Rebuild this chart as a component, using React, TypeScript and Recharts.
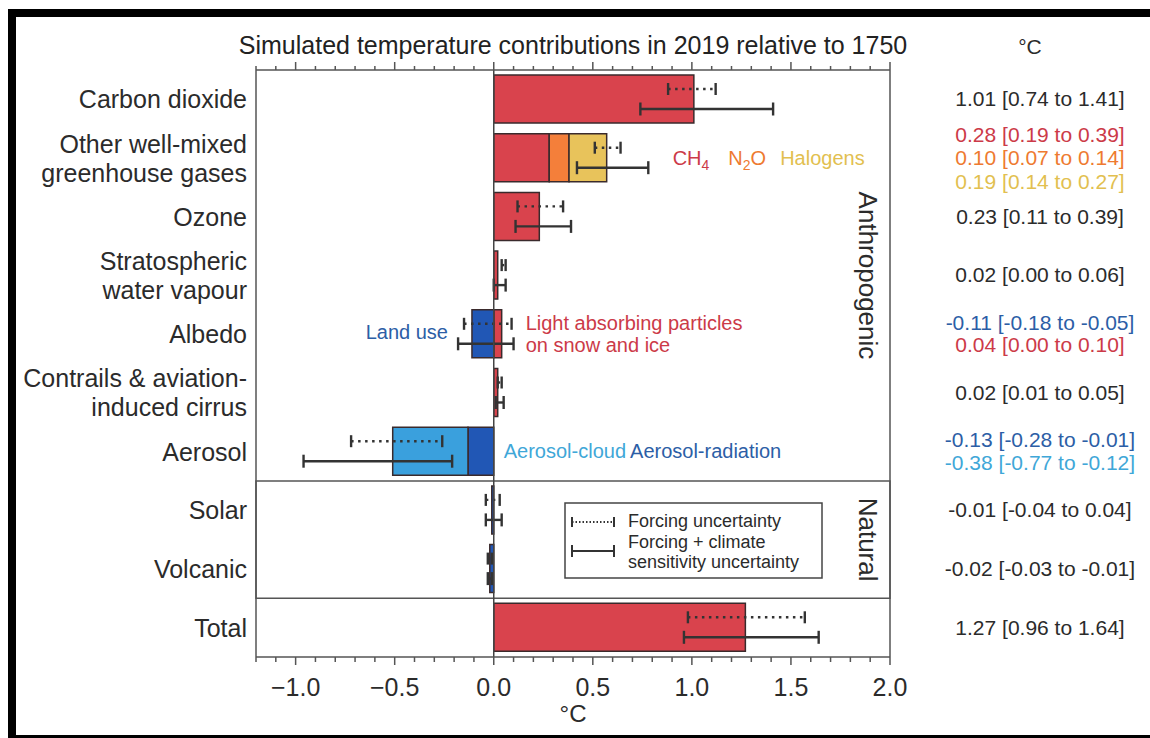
import React from "react";
import { ComposedChart, Bar, XAxis, YAxis, ReferenceLine, ReferenceArea, LabelList, Legend } from "recharts";

const categories = [
  "Carbon dioxide",
  "Other well-mixed greenhouse gases",
  "Ozone",
  "Stratospheric water vapour",
  "Albedo",
  "Contrails & aviation-induced cirrus",
  "Aerosol",
  "Solar",
  "Volcanic",
  "Total",
];

const categoryLines = [
  ["Carbon dioxide"],
  ["Other well-mixed", "greenhouse gases"],
  ["Ozone"],
  ["Stratospheric", "water vapour"],
  ["Albedo"],
  ["Contrails & aviation-", "induced cirrus"],
  ["Aerosol"],
  ["Solar"],
  ["Volcanic"],
  ["Total"],
];

// best estimates in °C, stacked out from zero
const redValues = [1.01, 0.28, 0.23, 0.02, 0.04, 0.02, 0, 0, 0, 1.27];
const n2oValues = [0, 0.1, 0, 0, 0, 0, 0, 0, 0, 0];
const halogenValues = [0, 0.19, 0, 0, 0, 0, 0, 0, 0, 0];
const darkBlueValues = [0, 0, 0, 0, -0.11, 0, -0.13, -0.01, -0.02, 0];
const aerosolCloudValues = [0, 0, 0, 0, 0, 0, -0.38, 0, 0, 0];

// forcing uncertainty (dotted)
const forcingLow = [0.88, 0.51, 0.12, 0.04, -0.15, 0.02, -0.72, -0.04, -0.03, 0.98];
const forcingHigh = [1.12, 0.64, 0.35, 0.06, 0.09, 0.04, -0.26, 0.03, -0.01, 1.57];
// forcing + climate sensitivity uncertainty (solid)
const fullLow = [0.74, 0.42, 0.11, 0.0, -0.18, 0.01, -0.96, -0.04, -0.03, 0.96];
const fullHigh = [1.41, 0.78, 0.39, 0.06, 0.1, 0.05, -0.21, 0.04, -0.01, 1.64];

// right-hand column: [best, low, high]
const assessed = [
  [[1.01, 0.74, 1.41]],
  [[0.28, 0.19, 0.39], [0.1, 0.07, 0.14], [0.19, 0.14, 0.27]],
  [[0.23, 0.11, 0.39]],
  [[0.02, 0.0, 0.06]],
  [[-0.11, -0.18, -0.05], [0.04, 0.0, 0.1]],
  [[0.02, 0.01, 0.05]],
  [[-0.13, -0.28, -0.01], [-0.38, -0.77, -0.12]],
  [[-0.01, -0.04, 0.04]],
  [[-0.02, -0.03, -0.01]],
  [[1.27, 0.96, 1.64]],
];

const xTicks = [
  -1.2, -1.1, -1.0, -0.9, -0.8, -0.7, -0.6, -0.5, -0.4, -0.3, -0.2, -0.1, 0,
  0.1, 0.2, 0.3, 0.4, 0.5, 0.6, 0.7, 0.8, 0.9, 1.0, 1.1, 1.2, 1.3, 1.4, 1.5,
  1.6, 1.7, 1.8, 1.9, 2.0,
];

const FONT = '"Liberation Sans", Arial, sans-serif';
const INK = "#2b2b2b";
const AXIS = "#555";
const EDGE = "#3a2a2c";
const RED = "#d9434d";
const ORANGE = "#f47f3a";
const GOLD = "#e8c35b";
const DBLUE = "#2157b5";
const LBLUE = "#3aa0dd";
const RED_T = "#cc3a48";
const ORANGE_T = "#ee7a30";
const GOLD_T = "#e2bf50";
const BLUE_T = "#2c5ea6";
const LBLUE_T = "#3fa7d8";

const assessedColors = [
  [INK],
  [RED_T, ORANGE_T, GOLD_T],
  [INK],
  [INK],
  [BLUE_T, RED_T],
  [INK],
  [BLUE_T, LBLUE_T],
  [INK],
  [INK],
  [INK],
];

const data = categories.map((name, i) => ({
  name,
  red: redValues[i],
  n2o: n2oValues[i],
  halo: halogenValues[i],
  dark: darkBlueValues[i],
  cloud: aerosolCloudValues[i],
  forcing: [forcingLow[i], forcingHigh[i]],
  full: [fullLow[i], fullHigh[i]],
}));

const isMajor = (v: number) => Math.abs(v * 2 - Math.round(v * 2)) < 1e-6;
const tickText = (v: number) => (v < -1e-9 ? "\u2212" : "") + Math.abs(v).toFixed(1);

const BottomTick = (p: any) => {
  const { x, y, payload } = p;
  const major = isMajor(payload.value);
  return (
    <g>
      <line x1={x} x2={x} y1={y} y2={y + (major ? 8 : 5)} stroke={AXIS} strokeWidth={1.5} />
      {major && (
        <text x={x} y={y + 39} textAnchor="middle" fontSize={25} fill={INK} fontFamily={FONT}>
          {tickText(payload.value)}
        </text>
      )}
    </g>
  );
};

const TopTick = (p: any) => {
  const { x, y, payload } = p;
  const major = isMajor(payload.value);
  return <line x1={x} x2={x} y1={y} y2={y - (major ? 8 : 4)} stroke={AXIS} strokeWidth={1.5} />;
};

const LeftTick = (p: any) => {
  const { x, y, payload } = p;
  const i = categories.indexOf(payload.value);
  const lines = categoryLines[i] || [payload.value];
  const lh = 29;
  const top = y - ((lines.length - 1) * lh) / 2;
  return (
    <g>
      {lines.map((l, k) => (
        <text key={k} x={x - 9} y={top + k * lh + 9} textAnchor="end" fontSize={25} fill={INK} fontFamily={FONT}>
          {l}
        </text>
      ))}
    </g>
  );
};

const fmt = (v: number) => v.toFixed(2);

const RightTick = (p: any) => {
  const { x, y, payload } = p;
  const i = categories.indexOf(payload.value);
  const rows = assessed[i];
  if (!rows) return null;
  const lh = rows.length > 2 ? 23.5 : 22.5;
  const top = y - ((rows.length - 1) * lh) / 2;
  return (
    <g>
      {rows.map((r, k) => (
        <text key={k} x={x + 150} y={top + k * lh + 7} textAnchor="middle" fontSize={21} fill={assessedColors[i][k]} fontFamily={FONT}>
          {`${fmt(r[0])} [${fmt(r[1])} to ${fmt(r[2])}]`}
        </text>
      ))}
    </g>
  );
};

const boxOf = (p: any) => {
  const vb = p.viewBox && p.viewBox.width !== undefined ? p.viewBox : p;
  const x = Number(vb.x);
  const w = Number(vb.width);
  const y = Number(vb.y);
  const h = Number(vb.height);
  return { left: Math.min(x, x + w), right: Math.max(x, x + w), cy: y + h / 2 };
};

// labels are fed the category name (LabelList dataKey="name")
const rowOf = (p: any) => categories.indexOf(String(p.value));

const GasLabels = (p: any) => {
  if (rowOf(p) !== 1) return null;
  const b = boxOf(p);
  return (
    <text x={b.right + 66} y={b.cy + 7} fontSize={20} fontFamily={FONT}>
      <tspan fill={RED_T}>CH</tspan>
      <tspan fill={RED_T} fontSize={14} dy={5}>4</tspan>
      <tspan fill={ORANGE_T} dx={19} dy={-5}>N</tspan>
      <tspan fill={ORANGE_T} fontSize={14} dy={5}>2</tspan>
      <tspan fill={ORANGE_T} dy={-5}>O</tspan>
      <tspan fill={GOLD_T} dx={14}>Halogens</tspan>
    </text>
  );
};

const RedLabels = (p: any) => {
  if (rowOf(p) !== 4) return null;
  const b = boxOf(p);
  return (
    <g fontSize={20} fontFamily={FONT} fill={RED_T}>
      <text x={b.right + 24} y={b.cy - 4}>Light absorbing particles</text>
      <text x={b.right + 24} y={b.cy + 18}>on snow and ice</text>
    </g>
  );
};

const BlueLabels = (p: any) => {
  const b = boxOf(p);
  const row = rowOf(p);
  if (row === 4)
    return (
      <text x={b.left - 24} y={b.cy + 5} textAnchor="end" fontSize={20} fontFamily={FONT} fill={BLUE_T}>
        Land use
      </text>
    );
  if (row === 6)
    return (
      <text x={b.right + 10} y={b.cy + 7} fontSize={20} fontFamily={FONT}>
        <tspan fill={LBLUE_T}>Aerosol-cloud</tspan>
        <tspan fill={BLUE_T} dx={4}>Aerosol-radiation</tspan>
      </text>
    );
  return null;
};

const rangeShape = (dotted: boolean) => (p: any) => {
  const { x, y, width, height } = p;
  if (x == null || width == null) return <g />;
  const x1 = Math.min(x, x + width);
  const x2 = Math.max(x, x + width);
  const cy = y + height / 2;
  const cap = dotted ? 6 : 6.5;
  return (
    <g stroke="#333" strokeWidth={2.4}>
      <line x1={x1} x2={x2} y1={cy} y2={cy} strokeDasharray={dotted ? "2.5 4.5" : undefined} />
      <line x1={x1} x2={x1} y1={cy - cap} y2={cy + cap} />
      <line x1={x2} x2={x2} y1={cy - cap} y2={cy + cap} />
    </g>
  );
};

const sideLabel = (text: string) => (p: any) => {
  const vb = p.viewBox || {};
  const x = vb.x + vb.width - 22;
  const y = vb.y + vb.height / 2;
  return (
    <text x={x} y={y} transform={`rotate(90 ${x} ${y})`} textAnchor="middle" dominantBaseline="central" fontSize={26} fill={INK} fontFamily={FONT}>
      {text}
    </text>
  );
};

const titleLabel = (p: any) => {
  const vb = p.viewBox || {};
  return (
    <text x={vb.x + vb.width / 2} y={vb.y + 34} textAnchor="middle" fontSize={25} fill="#222" fontFamily={FONT}>
      Simulated temperature contributions in 2019 relative to 1750
    </text>
  );
};

const bottomUnit = (p: any) => {
  const vb = p.viewBox || {};
  return (
    <text x={vb.x + vb.width / 2} y={vb.y + 65} textAnchor="middle" fontSize={24} fill={INK} fontFamily={FONT}>
      °C
    </text>
  );
};

const rightUnit = (p: any) => {
  const vb = p.viewBox || {};
  return (
    <text x={vb.x + 140} y={vb.y - 16} textAnchor="middle" fontSize={21} fill={INK} fontFamily={FONT}>
      °C
    </text>
  );
};

const LegendBox = () => (
  <svg width={259} height={77} style={{ display: "block" }}>
    <rect x={1} y={1} width={257} height={75} fill="#fff" stroke="#444" strokeWidth={1.5} />
    <g stroke="#333" strokeWidth={2}>
      <line x1={8} x2={50} y1={20} y2={20} strokeDasharray="1.5 2" />
      <line x1={8} x2={8} y1={15} y2={25} />
      <line x1={50} x2={50} y1={15} y2={25} />
      <line x1={8} x2={50} y1={49} y2={49} />
      <line x1={8} x2={8} y1={43} y2={55} />
      <line x1={50} x2={50} y1={43} y2={55} />
    </g>
    <g fontSize={18} fill={INK} fontFamily={FONT}>
      <text x={64} y={25}>Forcing uncertainty</text>
      <text x={64} y={46}>Forcing + climate</text>
      <text x={64} y={66}>sensitivity uncertainty</text>
    </g>
  </svg>
);

const AttributionChart = () => {
  const barProps = { stackId: "t", stroke: EDGE, strokeWidth: 1.5, barSize: 48, isAnimationActive: false };
  return (
    <ComposedChart
      width={1150}
      height={738}
      data={data}
      layout="vertical"
      stackOffset="sign"
      barGap={0}
      margin={{ top: 20, right: 10, bottom: 11, left: 16 }}
    >
      <XAxis
        type="number"
        domain={[-1.2, 2]}
        ticks={xTicks}
        interval={0}
        tickSize={0}
        tickMargin={0}
        tickLine={false}
        tick={BottomTick}
        axisLine={{ stroke: AXIS, strokeWidth: 1.5 }}
        height={70}
        allowDataOverflow
        label={bottomUnit}
      />
      <XAxis
        xAxisId="top"
        orientation="top"
        type="number"
        domain={[-1.2, 2]}
        ticks={xTicks}
        interval={0}
        tickSize={0}
        tickMargin={0}
        tickLine={false}
        tick={TopTick}
        axisLine={{ stroke: AXIS, strokeWidth: 1.5 }}
        height={50}
        allowDataOverflow
        label={titleLabel}
      />
      <YAxis
        type="category"
        dataKey="name"
        width={240}
        interval={0}
        tickSize={0}
        tickMargin={0}
        tickLine={false}
        tick={LeftTick}
        axisLine={{ stroke: AXIS, strokeWidth: 1.5 }}
      />
      <YAxis
        yAxisId="right"
        orientation="right"
        type="category"
        dataKey="name"
        width={250}
        interval={0}
        tickSize={0}
        tickMargin={0}
        tickLine={false}
        tick={RightTick}
        axisLine={{ stroke: AXIS, strokeWidth: 1.5 }}
        label={rightUnit}
      />
      <YAxis yAxisId="err" type="category" dataKey="name" hide />

      <ReferenceArea y1="Carbon dioxide" y2="Aerosol" fill="none" stroke="none" label={sideLabel("Anthropogenic")} />
      <ReferenceArea y1="Solar" y2="Volcanic" fill="none" fillOpacity={0} stroke={AXIS} strokeWidth={1.5} label={sideLabel("Natural")} />

      <Bar dataKey="red" fill={RED} {...barProps}>
        <LabelList dataKey="name" content={RedLabels} />
      </Bar>
      <Bar dataKey="n2o" fill={ORANGE} {...barProps} />
      <Bar dataKey="halo" fill={GOLD} {...barProps}>
        <LabelList dataKey="name" content={GasLabels} />
      </Bar>
      <Bar dataKey="dark" fill={DBLUE} {...barProps}>
        <LabelList dataKey="name" content={BlueLabels} />
      </Bar>
      <Bar dataKey="cloud" fill={LBLUE} {...barProps} />

      <ReferenceLine x={0} stroke="#444" strokeWidth={1.5} />

      <Bar dataKey="forcing" yAxisId="err" barSize={20} shape={rangeShape(true)} isAnimationActive={false} />
      <Bar dataKey="full" yAxisId="err" barSize={20} shape={rangeShape(false)} isAnimationActive={false} />

      <Legend
        layout="horizontal"
        verticalAlign="middle"
        align="center"
        wrapperStyle={{ left: 564, top: 502, width: 259, height: 77 }}
        content={LegendBox}
      />
    </ComposedChart>
  );
};

export default function App() {
  return (
    <div style={{ position: "relative", width: 1150, height: 738, background: "#fff", overflow: "hidden", fontFamily: FONT }}>
      <style>{"body{margin:0;background:#fff}"}</style>
      <AttributionChart />
      <div
        style={{
          position: "absolute",
          left: 8,
          top: 9,
          right: -10,
          bottom: 0,
          borderTop: "8px solid #000",
          borderLeft: "8px solid #000",
          borderBottom: "3px solid #000",
          pointerEvents: "none",
        }}
      />
    </div>
  );
}
